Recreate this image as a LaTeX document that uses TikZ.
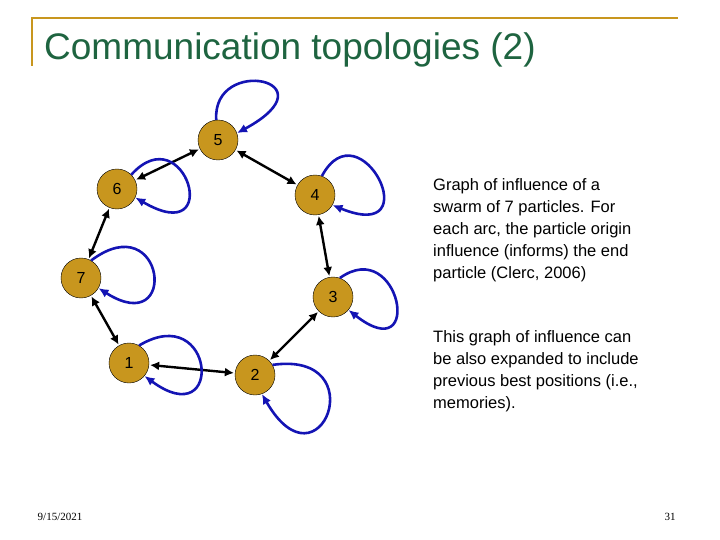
\documentclass[tikz,border=0pt]{standalone}
\usepackage{fontspec}
\setmainfont{Liberation Sans}
\newfontfamily\serifft{Liberation Serif}
\usetikzlibrary{arrows.meta}
\definecolor{gold}{HTML}{C8961E}
\definecolor{loopblue}{HTML}{1414B4}
\definecolor{titlegreen}{HTML}{1E6440}
\tikzset{
 part/.style={circle,draw=black,fill=gold,minimum size=40pt,inner sep=0pt,font=\fontsize{16}{16}\selectfont},
 link/.style={black,line width=2.4pt,{Latex[length=9pt,width=9pt]}-{Latex[length=9pt,width=9pt]},shorten <=1pt,shorten >=1pt},
 selfloop/.style={loopblue,line width=2.6pt,-{Latex[length=10pt,width=9pt]}},
 body/.style={anchor=north west,align=left,font=\fontsize{16.5}{22}\selectfont,inner sep=0pt}
}
\begin{document}
\begin{tikzpicture}[x=1pt,y=-1pt]
\useasboundingbox (0,0) rectangle (720,540);
\draw[gold,line width=1.5pt] (32,66) coordinate (va) -- (32,18) coordinate (vb) -- (678,18) coordinate (vc);
\node[anchor=west,text=titlegreen,font=\fontsize{37}{37}\selectfont,inner sep=0pt] (title) at (44,50) {Communication topologies (2)};
\node[part] (n5) at (218,140) {5};
\node[part] (n6) at (117,189) {6};
\node[part] (n4) at (315,195) {4};
\node[part] (n7) at (81,278) {7};
\node[part] (n3) at (333,297) {3};
\node[part] (n1) at (129,363) {1};
\node[part] (n2) at (255,375) {2};
\draw[link] (n5) -- (n6);
\draw[link] (n5) -- (n4);
\draw[link] (n4) -- (n3);
\draw[link] (n3) -- (n2);
\draw[link] (n2) -- (n1);
\draw[link] (n1) -- (n7);
\draw[link] (n7) -- (n6);
\draw[selfloop] (n5.95) .. controls (212,55) and (335,80) .. (n5.20);
\draw[selfloop] (n6.45) .. controls (185,115) and (225,250) .. (n6.-25);
\draw[selfloop] (n4.70) .. controls (360,105) and (430,245) .. (n4.-30);
\draw[selfloop] (n3.70) .. controls (400,235) and (425,370) .. (n3.-40);
\draw[selfloop] (n2.30) .. controls (375,350) and (320,495) .. (n2.-70);
\draw[selfloop] (n1.60) .. controls (215,300) and (225,435) .. (n1.-40);
\draw[selfloop] (n7.60) .. controls (165,205) and (180,340) .. (n7.-30);
\node[body] (t1) at (433,178) {Graph of influence of a\\swarm of 7 particles. For\\each arc, the particle origin\\influence (informs) the end\\particle (Clerc, 2006)};
\node[body] (t2) at (433,330) {This graph of influence can\\be also expanded to include\\previous best positions (i.e.,\\memories).};
\node[font=\serifft\fontsize{11}{11}\selectfont] (date) at (60,517) {9/15/2021};
\node[font=\serifft\fontsize{11}{11}\selectfont] (page) at (670,517) {31};
\end{tikzpicture}
\end{document}
